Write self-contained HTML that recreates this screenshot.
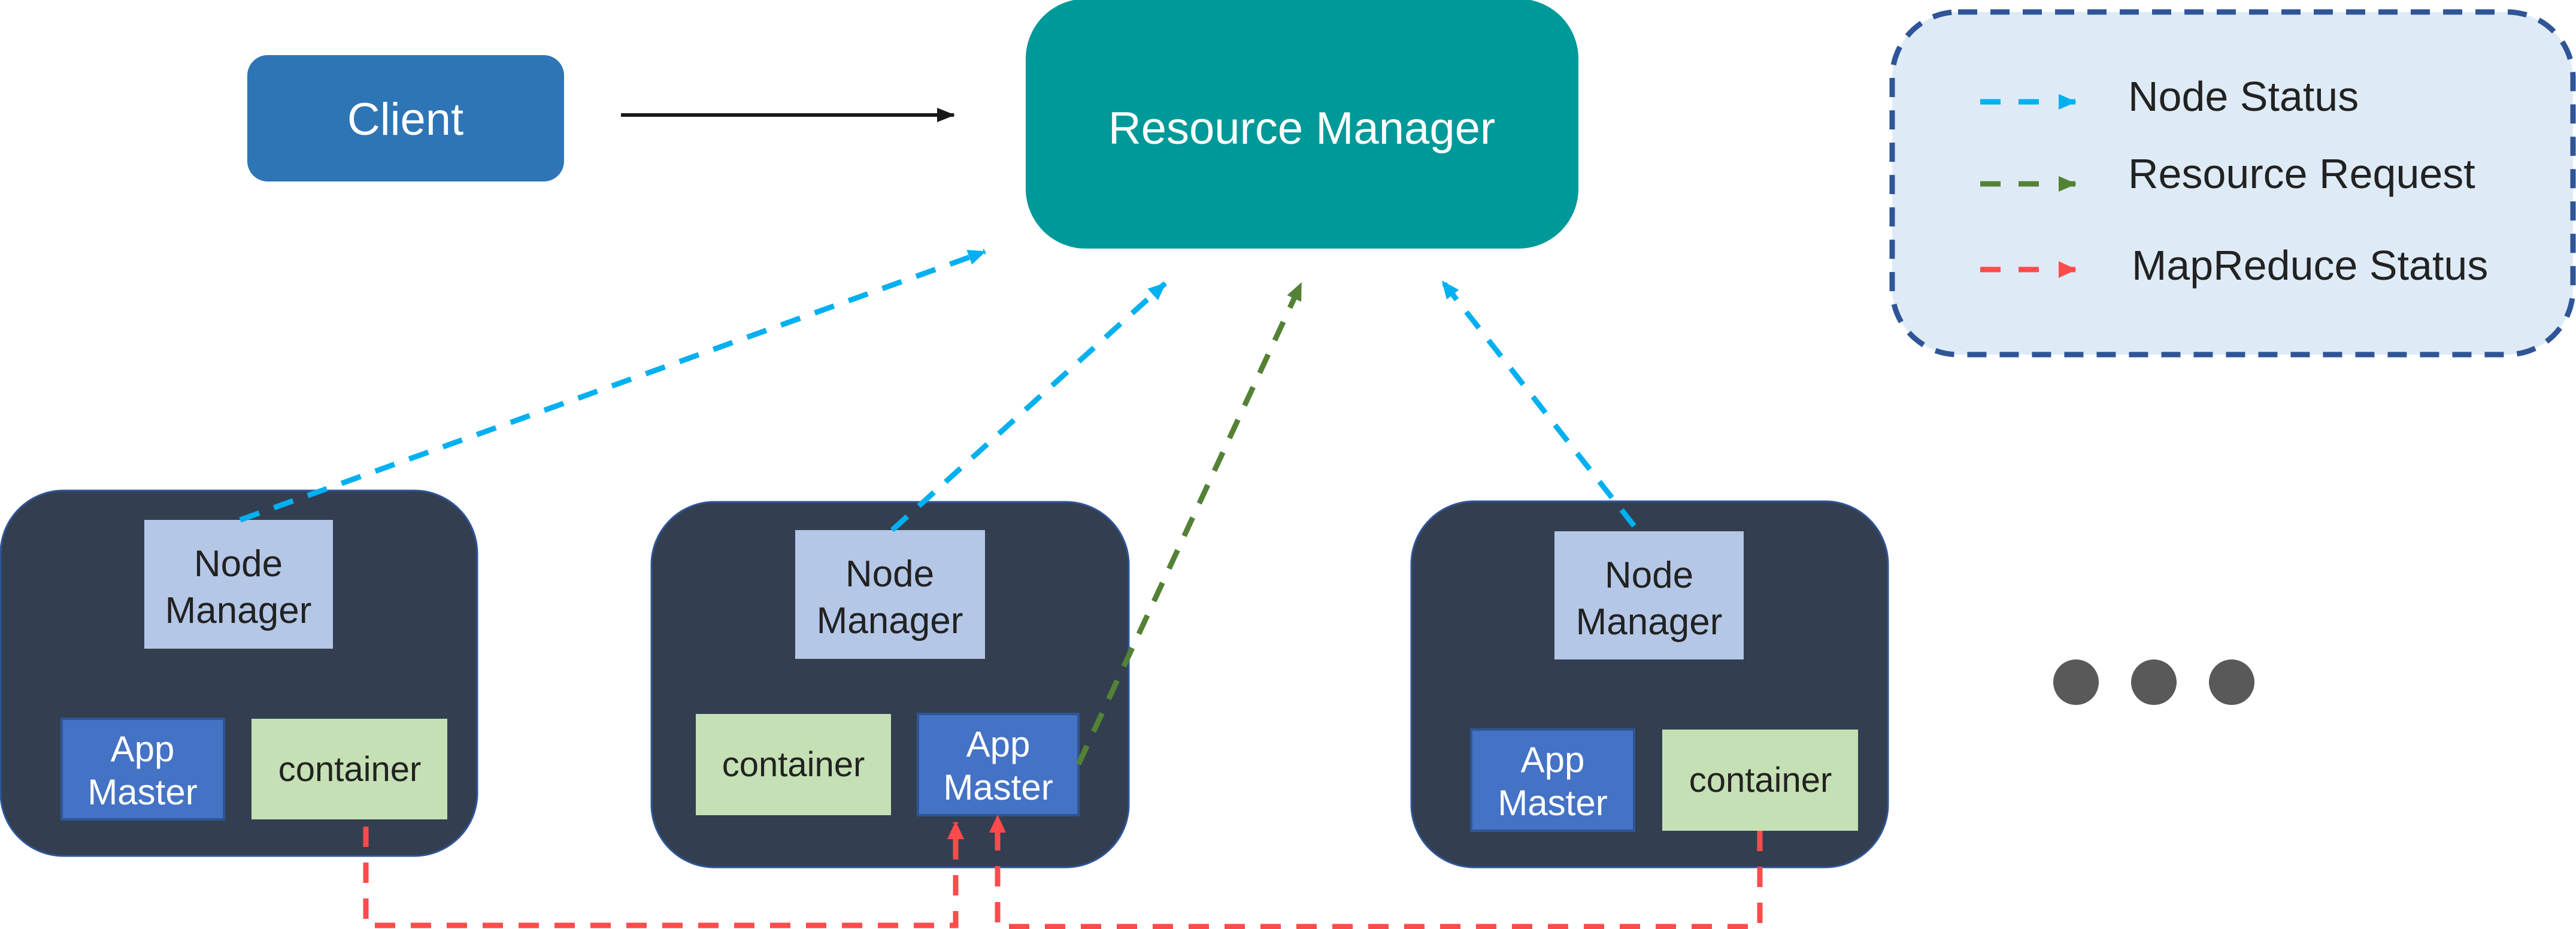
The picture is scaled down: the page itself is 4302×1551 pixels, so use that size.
<!DOCTYPE html>
<html><head><meta charset="utf-8"><style>
html,body{margin:0;padding:0;background:#fff;}
svg{display:block;}
text{font-family:"Liberation Sans",sans-serif;}
</style></head><body>
<svg width="4302" height="1551" viewBox="0 0 4302 1551" xmlns="http://www.w3.org/2000/svg">
<defs>
<marker id="ab" markerUnits="userSpaceOnUse" markerWidth="30" markerHeight="30" refX="28" refY="15" orient="auto"><path d="M0,2 L30,15 L0,28 Z" fill="#00B0F0"/></marker>
<marker id="ag" markerUnits="userSpaceOnUse" markerWidth="30" markerHeight="30" refX="28" refY="15" orient="auto"><path d="M0,2 L30,15 L0,28 Z" fill="#548235"/></marker>
<marker id="ar" markerUnits="userSpaceOnUse" markerWidth="30" markerHeight="30" refX="28" refY="15" orient="auto"><path d="M0,1 L30,15 L0,29 Z" fill="#FF4B4B"/></marker>
<marker id="ak" markerUnits="userSpaceOnUse" markerWidth="30" markerHeight="30" refX="28" refY="15" orient="auto"><path d="M0,3 L30,15 L0,27 Z" fill="#1a1a1a"/></marker>
</defs>

<!-- Legend -->
<rect x="3160" y="20" width="1137" height="572" rx="110" fill="#DEEBF7" stroke="#2F5597" stroke-width="9" stroke-dasharray="32,22"/>
<line x1="3307" y1="170" x2="3466" y2="170" stroke="#00B0F0" stroke-width="9" stroke-dasharray="34,30,34,42" marker-end="url(#ab)"/>
<line x1="3307" y1="307" x2="3466" y2="307" stroke="#548235" stroke-width="9" stroke-dasharray="34,30,34,42" marker-end="url(#ag)"/>
<line x1="3307" y1="450" x2="3466" y2="450" stroke="#FF4B4B" stroke-width="9" stroke-dasharray="34,30,34,42" marker-end="url(#ar)"/>
<text x="3554" y="185" font-size="70" fill="#222">Node Status</text>
<text x="3554" y="314" font-size="70" fill="#222">Resource Request</text>
<text x="3560" y="467" font-size="70" fill="#222">MapReduce Status</text>

<!-- Client -->
<rect x="413" y="92" width="529" height="211" rx="34" fill="#2E75B6"/>
<text x="677" y="225" font-size="76" fill="#fff" text-anchor="middle">Client</text>
<line x1="1037" y1="192" x2="1593" y2="192" stroke="#1a1a1a" stroke-width="6" marker-end="url(#ak)"/>

<!-- Resource Manager -->
<rect x="1713" y="-2" width="923" height="417" rx="100" fill="#009999"/>
<text x="2174" y="240" font-size="76" fill="#fff" text-anchor="middle">Resource Manager</text>

<!-- Node boxes -->
<rect x="1" y="819" width="796" height="610" rx="105" fill="#333F50" stroke="#2F5597" stroke-width="3"/>
<rect x="1088" y="838" width="797" height="610" rx="105" fill="#333F50" stroke="#2F5597" stroke-width="3"/>
<rect x="2357" y="837" width="796" height="611" rx="105" fill="#333F50" stroke="#2F5597" stroke-width="3"/>

<!-- Node managers -->
<g font-size="62" fill="#222" text-anchor="middle">
<rect x="241" y="868" width="315" height="215" fill="#B4C7E7"/>
<text x="398" y="962">Node</text><text x="398" y="1040">Manager</text>
<rect x="1328" y="885" width="317" height="215" fill="#B4C7E7"/>
<text x="1486" y="979">Node</text><text x="1486" y="1057">Manager</text>
<rect x="2596" y="887" width="316" height="214" fill="#B4C7E7"/>
<text x="2754" y="981">Node</text><text x="2754" y="1059">Manager</text>
</g>

<!-- App masters -->
<g font-size="60" fill="#fff" text-anchor="middle">
<rect x="103" y="1200" width="271" height="168" fill="#4472C4" stroke="#2F5597" stroke-width="4"/>
<text x="238" y="1271">App</text><text x="238" y="1343">Master</text>
<rect x="1533" y="1192" width="268" height="169" fill="#4472C4" stroke="#2F5597" stroke-width="4"/>
<text x="1667" y="1263">App</text><text x="1667" y="1335">Master</text>
<rect x="2457" y="1218" width="272" height="169" fill="#4472C4" stroke="#2F5597" stroke-width="4"/>
<text x="2593" y="1289">App</text><text x="2593" y="1361">Master</text>
</g>

<!-- Containers -->
<g font-size="58" fill="#222" text-anchor="middle">
<rect x="420" y="1200" width="327" height="168" fill="#C5E0B4"/>
<text x="584" y="1304">container</text>
<rect x="1162" y="1192" width="326" height="169" fill="#C5E0B4"/>
<text x="1325" y="1296">container</text>
<rect x="2776" y="1218" width="327" height="169" fill="#C5E0B4"/>
<text x="2940" y="1322">container</text>
</g>

<!-- Dots -->
<circle cx="3467" cy="1139" r="38" fill="#595959"/>
<circle cx="3597" cy="1139" r="38" fill="#595959"/>
<circle cx="3727" cy="1139" r="38" fill="#595959"/>

<!-- Status connectors -->
<g stroke-width="9" fill="none" stroke-dasharray="34,26">
<line x1="401" y1="868" x2="1645" y2="420" stroke="#00B0F0" marker-end="url(#ab)"/>
<line x1="1490" y1="885" x2="1946" y2="473" stroke="#00B0F0" marker-end="url(#ab)"/>
<line x1="2729" y1="878" x2="2409" y2="470" stroke="#00B0F0" marker-end="url(#ab)"/>
<line x1="1801" y1="1276" x2="2173" y2="473" stroke="#548235" marker-end="url(#ag)"/>
<polyline points="611,1380 611,1545 1596,1545 1596,1373" stroke="#FF4B4B" marker-end="url(#ar)"/>
<polyline points="2939,1387 2939,1547 1666,1547 1666,1362" stroke="#FF4B4B" marker-end="url(#ar)"/>
</g>
</svg>
</body></html>
